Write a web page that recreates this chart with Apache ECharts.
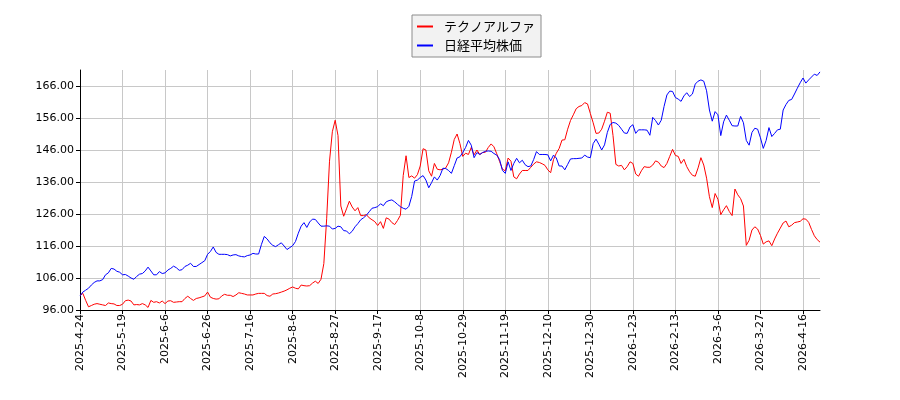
<!DOCTYPE html>
<html>
<head>
<meta charset="utf-8">
<script src="https://cdn.jsdelivr.net/npm/echarts@6/dist/echarts.min.js"></script>
<style>
  html, body { margin: 0; padding: 0; background: #fff; }
  #chart { width: 900px; height: 400px; }
</style>
</head>
<body>
<div id="chart"></div>
<script>
// tick labels, one every 15 trading days
var tickLabels = [
  '2025-4-24', '2025-5-19', '2025-6-6', '2025-6-26', '2025-7-16', '2025-8-6',
  '2025-8-27', '2025-9-17', '2025-10-8', '2025-10-29', '2025-11-19', '2025-12-10',
  '2025-12-30', '2026-1-23', '2026-2-13', '2026-3-6', '2026-3-27', '2026-4-16'
];
var tickStep = 15;

// テクノアルファ (indexed)
var technoAlpha = [
  100.5, 101.2, 99.0, 97.0, 97.4, 97.8, 98.0, 97.8, 97.6, 97.4,
  98.2, 98.0, 97.9, 97.4, 97.4, 97.8, 98.9, 99.1, 98.8, 97.6,
  97.7, 97.6, 98.0, 97.6, 96.8, 99.0, 98.4, 98.6, 98.2, 98.8,
  98.0, 98.8, 98.9, 98.4, 98.5, 98.6, 98.6, 99.6, 100.3, 99.6,
  99.0, 99.6, 99.8, 100.1, 100.4, 101.6, 100.0, 99.6, 99.4, 99.5,
  100.4, 100.9, 100.6, 100.6, 100.2, 100.7, 101.4, 101.2, 101.0, 100.7,
  100.7, 100.7, 101.0, 101.2, 101.2, 101.2, 100.5, 100.3, 101.0, 101.1,
  101.3, 101.6, 101.9, 102.3, 102.8, 103.2, 102.8, 102.6, 103.8, 103.6,
  103.5, 103.6, 104.4, 105.0, 104.3, 105.6, 110.5, 124.5, 142.5, 151.7,
  155.3, 150.5, 128.5, 125.3, 127.6, 130.0, 128.2, 127.0, 128.0, 125.5,
  125.5, 125.8, 124.8, 124.2, 123.6, 122.4, 123.6, 121.5, 124.8, 124.4,
  123.3, 122.7, 124.0, 125.6, 138.0, 144.2, 137.4, 137.9, 137.2, 138.3,
  141.0, 146.4, 146.0, 139.5, 137.8, 141.8, 140.0, 139.8, 140.0, 140.4,
  142.0, 145.3, 149.3, 151.0, 148.0, 144.0, 145.0, 144.6, 146.8, 144.5,
  146.0, 144.6, 145.2, 145.3, 146.8, 147.9, 147.0, 144.8, 142.4, 140.0,
  139.5, 143.5, 142.5, 137.6, 137.0, 138.5, 139.6, 139.6, 139.6, 140.6,
  141.6, 142.3, 142.1, 141.7, 141.2, 139.8, 138.9, 143.0, 145.0, 146.5,
  149.1, 149.2, 152.5, 155.2, 157.0, 158.9, 159.6, 159.9, 160.8, 160.4,
  157.4, 154.5, 151.2, 151.3, 152.5, 155.0, 157.8, 157.5, 150.5, 141.5,
  141.0, 141.2, 139.8, 140.8, 142.3, 141.8, 138.5, 137.8, 139.5, 140.8,
  140.6, 140.6, 141.3, 142.6, 142.2, 141.0, 140.5, 141.8, 144.0, 146.2,
  144.3, 144.0, 141.8, 143.1, 140.8, 139.2, 138.1, 137.8, 140.4, 143.6,
  141.3, 137.2, 131.4, 128.0, 132.4, 130.6, 125.8, 127.3, 128.6, 126.8,
  125.5, 133.8, 132.0, 130.8, 128.5, 116.2, 117.8, 121.0, 122.0, 121.3,
  119.3, 116.6, 117.3, 117.6, 116.1, 118.2, 120.0, 121.6, 123.2, 123.8,
  122.0, 122.5, 123.3, 123.5, 123.7, 124.5, 124.4, 123.4, 121.2, 119.2,
  118.0, 117.2
];

// 日経平均株価 (indexed)
var nikkei = [
  100.4, 101.6, 102.2, 102.8, 103.8, 104.6, 105.1, 105.1, 105.5, 107.0,
  107.6, 109.0, 108.8, 108.1, 107.8, 107.0, 107.1, 106.6, 106.0, 105.6,
  106.5, 107.2, 107.4, 108.2, 109.4, 108.2, 107.0, 107.0, 108.0, 107.4,
  107.6, 108.5, 109.0, 109.7, 109.2, 108.4, 108.6, 109.6, 110.0, 110.6,
  109.6, 109.6, 110.2, 110.8, 111.4, 113.4, 114.3, 115.7, 114.0, 113.4,
  113.4, 113.4, 113.3, 112.9, 113.2, 113.3, 112.9, 112.7, 112.6, 113.0,
  113.2, 113.7, 113.5, 113.5, 116.5, 119.0, 118.2, 117.0, 116.2, 115.8,
  116.4, 117.0, 116.0, 114.9, 115.5, 116.1, 117.4, 120.0, 122.2, 123.3,
  121.8, 123.5, 124.4, 124.3, 123.2, 122.2, 122.2, 122.3, 122.2, 121.3,
  121.5, 122.2, 122.0, 120.8, 120.7, 119.8, 120.6, 122.0, 123.0, 124.2,
  124.8, 125.6, 126.7, 127.8, 128.0, 128.3, 129.2, 128.6, 129.8, 130.2,
  130.4, 129.8, 129.0, 128.3, 127.8, 127.5, 128.4, 131.5, 136.3, 136.6,
  137.4, 138.0, 136.6, 134.2, 135.8, 137.6, 136.6, 138.0, 140.3, 140.2,
  139.6, 138.7, 141.1, 143.5, 143.9, 145.2, 146.8, 149.0, 147.5, 143.6,
  145.2, 144.6, 145.2, 145.6, 145.7, 145.6, 144.9, 144.4, 143.0, 139.6,
  138.7, 142.3, 139.6, 141.8, 143.4, 142.0, 142.8, 141.4, 140.8, 141.0,
  143.0, 145.5, 144.6, 144.6, 144.6, 144.5, 142.6, 144.4, 143.5, 141.0,
  141.0, 139.8, 141.5, 143.2, 143.3, 143.3, 143.4, 143.5, 144.4, 143.8,
  143.6, 148.0, 149.4, 147.8, 146.0, 147.6, 151.5, 154.0, 154.6, 154.4,
  153.7, 152.5, 151.3, 151.2, 153.2, 153.9, 151.2, 152.3, 152.3, 152.3,
  152.2, 150.6, 156.2, 155.2, 153.8, 155.3, 159.6, 163.2, 164.4, 164.3,
  162.4, 161.9, 161.2, 162.9, 163.9, 162.7, 163.5, 166.6, 167.5, 167.9,
  167.5, 164.5, 158.5, 155.0, 158.0, 157.0, 150.5, 154.8, 156.9, 155.3,
  153.6, 153.5, 153.5, 156.5, 154.5, 149.0, 147.5, 151.5, 152.8, 152.5,
  149.8, 146.5, 149.0, 153.0, 150.2, 151.2, 152.3, 152.5, 158.5, 160.2,
  161.5, 161.8, 163.5, 165.3, 167.0, 168.5, 166.9, 167.9, 168.8, 169.7,
  169.3, 170.4
];

var seriesNames = ['テクノアルファ', '日経平均株価'];
var seriesColors = ['#ff0000', '#0000ff'];

var categories = technoAlpha.map(function (v, i) {
  return i % tickStep === 0 ? tickLabels[i / tickStep] : '';
});

var chart = echarts.init(document.getElementById('chart'), null, { renderer: 'canvas' });

var option = {
  animation: false,
  grid: { left: 80, right: 80, top: 70, bottom: 90 },
  legend: {
    orient: 'vertical',
    left: 412,
    top: 15,
    padding: [4, 6, 4, 5],
    itemGap: 4,
    itemWidth: 16,
    itemHeight: 2,
    icon: 'rect',
    backgroundColor: '#f2f2f2',
    borderColor: '#8c8c8c',
    borderWidth: 1,
    borderRadius: 0,
    textStyle: {
      fontFamily: 'Noto Sans CJK JP',
      fontSize: 13,
      color: '#000',
      lineHeight: 15,
      padding: [0, 0, 0, 6]
    },
    data: seriesNames
  },
  xAxis: {
    type: 'category',
    boundaryGap: false,
    data: categories,
    axisLine: { lineStyle: { color: '#000', width: 1 } },
    axisTick: { interval: tickStep - 1, length: 4, lineStyle: { color: '#000' } },
    axisLabel: {
      interval: tickStep - 1,
      rotate: 90,
      margin: 4,
      fontFamily: 'DejaVu Sans',
      fontSize: 11,
      color: '#000'
    },
    splitLine: { show: true, interval: tickStep - 1, lineStyle: { color: '#c8c8c8', width: 1 } }
  },
  yAxis: {
    type: 'value',
    min: 96,
    max: 171,
    interval: 10,
    axisLine: { show: true, lineStyle: { color: '#000', width: 1 } },
    axisTick: { show: true, length: 4, lineStyle: { color: '#000' } },
    axisLabel: {
      showMaxLabel: false,
      margin: 6,
      fontFamily: 'DejaVu Sans',
      fontSize: 11,
      color: '#000',
      formatter: function (v) { return v.toFixed(2); }
    },
    splitLine: { show: true, showMaxLine: false, lineStyle: { color: '#c8c8c8', width: 1 } }
  },
  series: [
    {
      name: seriesNames[0],
      type: 'line',
      data: technoAlpha,
      symbol: 'none',
      color: seriesColors[0],
      lineStyle: { width: 1, color: seriesColors[0] }
    },
    {
      name: seriesNames[1],
      type: 'line',
      data: nikkei,
      symbol: 'none',
      color: seriesColors[1],
      lineStyle: { width: 1, color: seriesColors[1] }
    }
  ]
};

chart.setOption(option);
</script>
</body>
</html>
